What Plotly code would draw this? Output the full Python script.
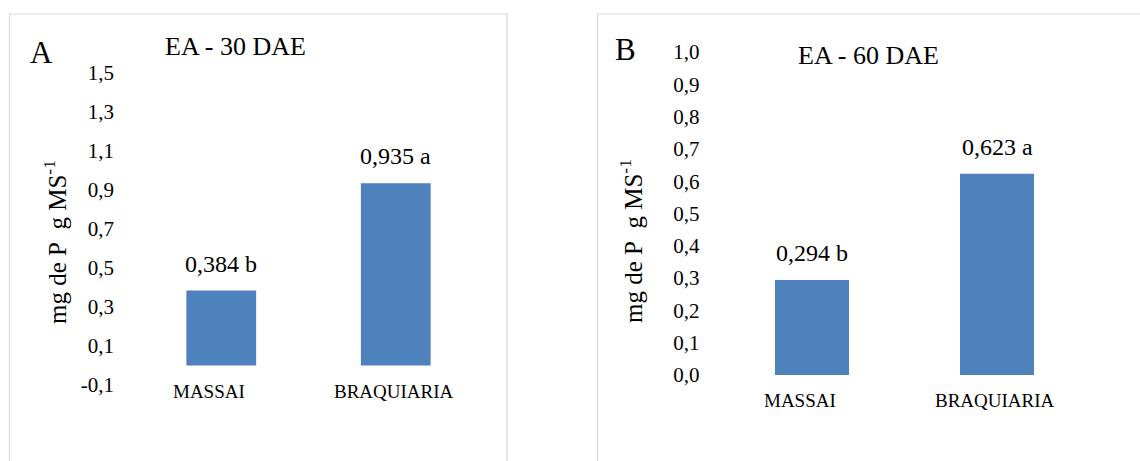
import plotly.graph_objects as go

# ---- data ----
categories = ["MASSAI", "BRAQUIARIA"]
values_30 = [0.384, 0.935]
labels_30 = ["0,384 b", "0,935 a"]
values_60 = [0.294, 0.623]
labels_60 = ["0,294 b", "0,623 a"]

ticks_30 = [-0.1, 0.1, 0.3, 0.5, 0.7, 0.9, 1.1, 1.3, 1.5]
ticktext_30 = ["-0,1", "0,1", "0,3", "0,5", "0,7", "0,9", "1,1", "1,3", "1,5"]
ticks_60 = [0.0, 0.1, 0.2, 0.3, 0.4, 0.5, 0.6, 0.7, 0.8, 0.9, 1.0]
ticktext_60 = ["0,0", "0,1", "0,2", "0,3", "0,4", "0,5", "0,6", "0,7", "0,8", "0,9", "1,0"]

title_30 = "EA - 30 DAE"
title_60 = "EA - 60 DAE"
ytitle = "mg de P\u00a0 g MS<sup>-1</sup>"

W, H = 1140, 461
FONT = '"Liberation Serif", "Times New Roman", serif'
BAR = "#4F81BD"

def px(x):
    return x / W

def py(y):
    return (H - y) / H

fig = go.Figure()
fig.add_trace(go.Bar(x=categories, y=values_30, width=0.4, marker=dict(color=BAR, line=dict(width=0)),
                     xaxis="x", yaxis="y", showlegend=False, hoverinfo="skip"))
fig.add_trace(go.Bar(x=categories, y=values_60, width=0.4, marker=dict(color=BAR, line=dict(width=0)),
                     xaxis="x2", yaxis="y2", showlegend=False, hoverinfo="skip"))

common_x = dict(showgrid=False, zeroline=False, showline=False, showticklabels=False,
                ticks="", range=[-0.5, 1.5], fixedrange=True, automargin=False)
common_y = dict(showgrid=False, zeroline=False, showline=False, ticks="", automargin=False,
                fixedrange=True, tickfont=dict(family=FONT, size=21, color="black"),
                ticklabelstandoff=19)

fig.update_layout(
    width=W, height=H, autosize=False,
    margin=dict(l=0, r=0, t=0, b=0, pad=0, autoexpand=False),
    paper_bgcolor="white", plot_bgcolor="white",
    font=dict(family=FONT, color="black"),
    xaxis=dict(domain=[px(134), px(483)], anchor="y", **common_x),
    yaxis=dict(domain=[py(385), py(73)], anchor="x", range=[-0.1, 1.5],
               tickvals=ticks_30, ticktext=ticktext_30, **common_y),
    xaxis2=dict(domain=[px(719.5), px(1089.5)], anchor="y2", **common_x),
    yaxis2=dict(domain=[py(375), py(52)], anchor="x2", range=[0, 1.0],
                tickvals=ticks_60, ticktext=ticktext_60, **common_y),
)

# panel borders
fig.add_shape(type="rect", xref="paper", yref="paper", x0=px(9.5), x1=px(507), y0=-0.1, y1=py(14),
              line=dict(color="#d9d9d9", width=1.2), fillcolor="rgba(0,0,0,0)", layer="below")
fig.add_shape(type="rect", xref="paper", yref="paper", x0=px(597.5), x1=1.1, y0=-0.1, y1=py(14),
              line=dict(color="#d9d9d9", width=1.2), fillcolor="rgba(0,0,0,0)", layer="below")

ann = []
# value labels
for xs, ys, vals, labs in [("x", "y", values_30, labels_30), ("x2", "y2", values_60, labels_60)]:
    for c, v, t in zip(categories, vals, labs):
        ann.append(dict(x=c, y=v, xref=xs, yref=ys, text=t, showarrow=False, xanchor="center",
                        yanchor="middle", yshift=27, font=dict(family=FONT, size=24, color="black")))
# category labels
for xs, ycat in [("x", 391), ("x2", 400)]:
    for c, sh in zip(categories, [-12, -2]):
        ann.append(dict(x=c, y=py(ycat), xref=xs, yref="paper", text=c, showarrow=False,
                        xanchor="center", yanchor="middle", xshift=sh,
                        font=dict(family=FONT, size=19, color="black")))
# titles
ann.append(dict(x=px(235), y=py(47), xref="paper", yref="paper", text=title_30, showarrow=False,
                xanchor="center", yanchor="middle", font=dict(family=FONT, size=26, color="black")))
ann.append(dict(x=px(868), y=py(56), xref="paper", yref="paper", text=title_60, showarrow=False,
                xanchor="center", yanchor="middle", font=dict(family=FONT, size=26, color="black")))
# panel letters
ann.append(dict(x=px(41), y=py(52), xref="paper", yref="paper", text="A", showarrow=False,
                xanchor="center", yanchor="middle", font=dict(family=FONT, size=31, color="black")))
ann.append(dict(x=px(625), y=py(50), xref="paper", yref="paper", text="B", showarrow=False,
                xanchor="center", yanchor="middle", font=dict(family=FONT, size=31, color="black")))
# y titles
ann.append(dict(x=px(55), y=py(242), xref="paper", yref="paper", text=ytitle, showarrow=False,
                textangle=-90, xanchor="center", yanchor="middle", font=dict(family=FONT, size=25, color="black")))
ann.append(dict(x=px(631), y=py(241), xref="paper", yref="paper", text=ytitle, showarrow=False,
                textangle=-90, xanchor="center", yanchor="middle", font=dict(family=FONT, size=25, color="black")))

fig.update_layout(annotations=ann)
fig.write_html("out.html", config={"displayModeBar": False, "responsive": False},
               post_script="document.body.style.margin='0';")
